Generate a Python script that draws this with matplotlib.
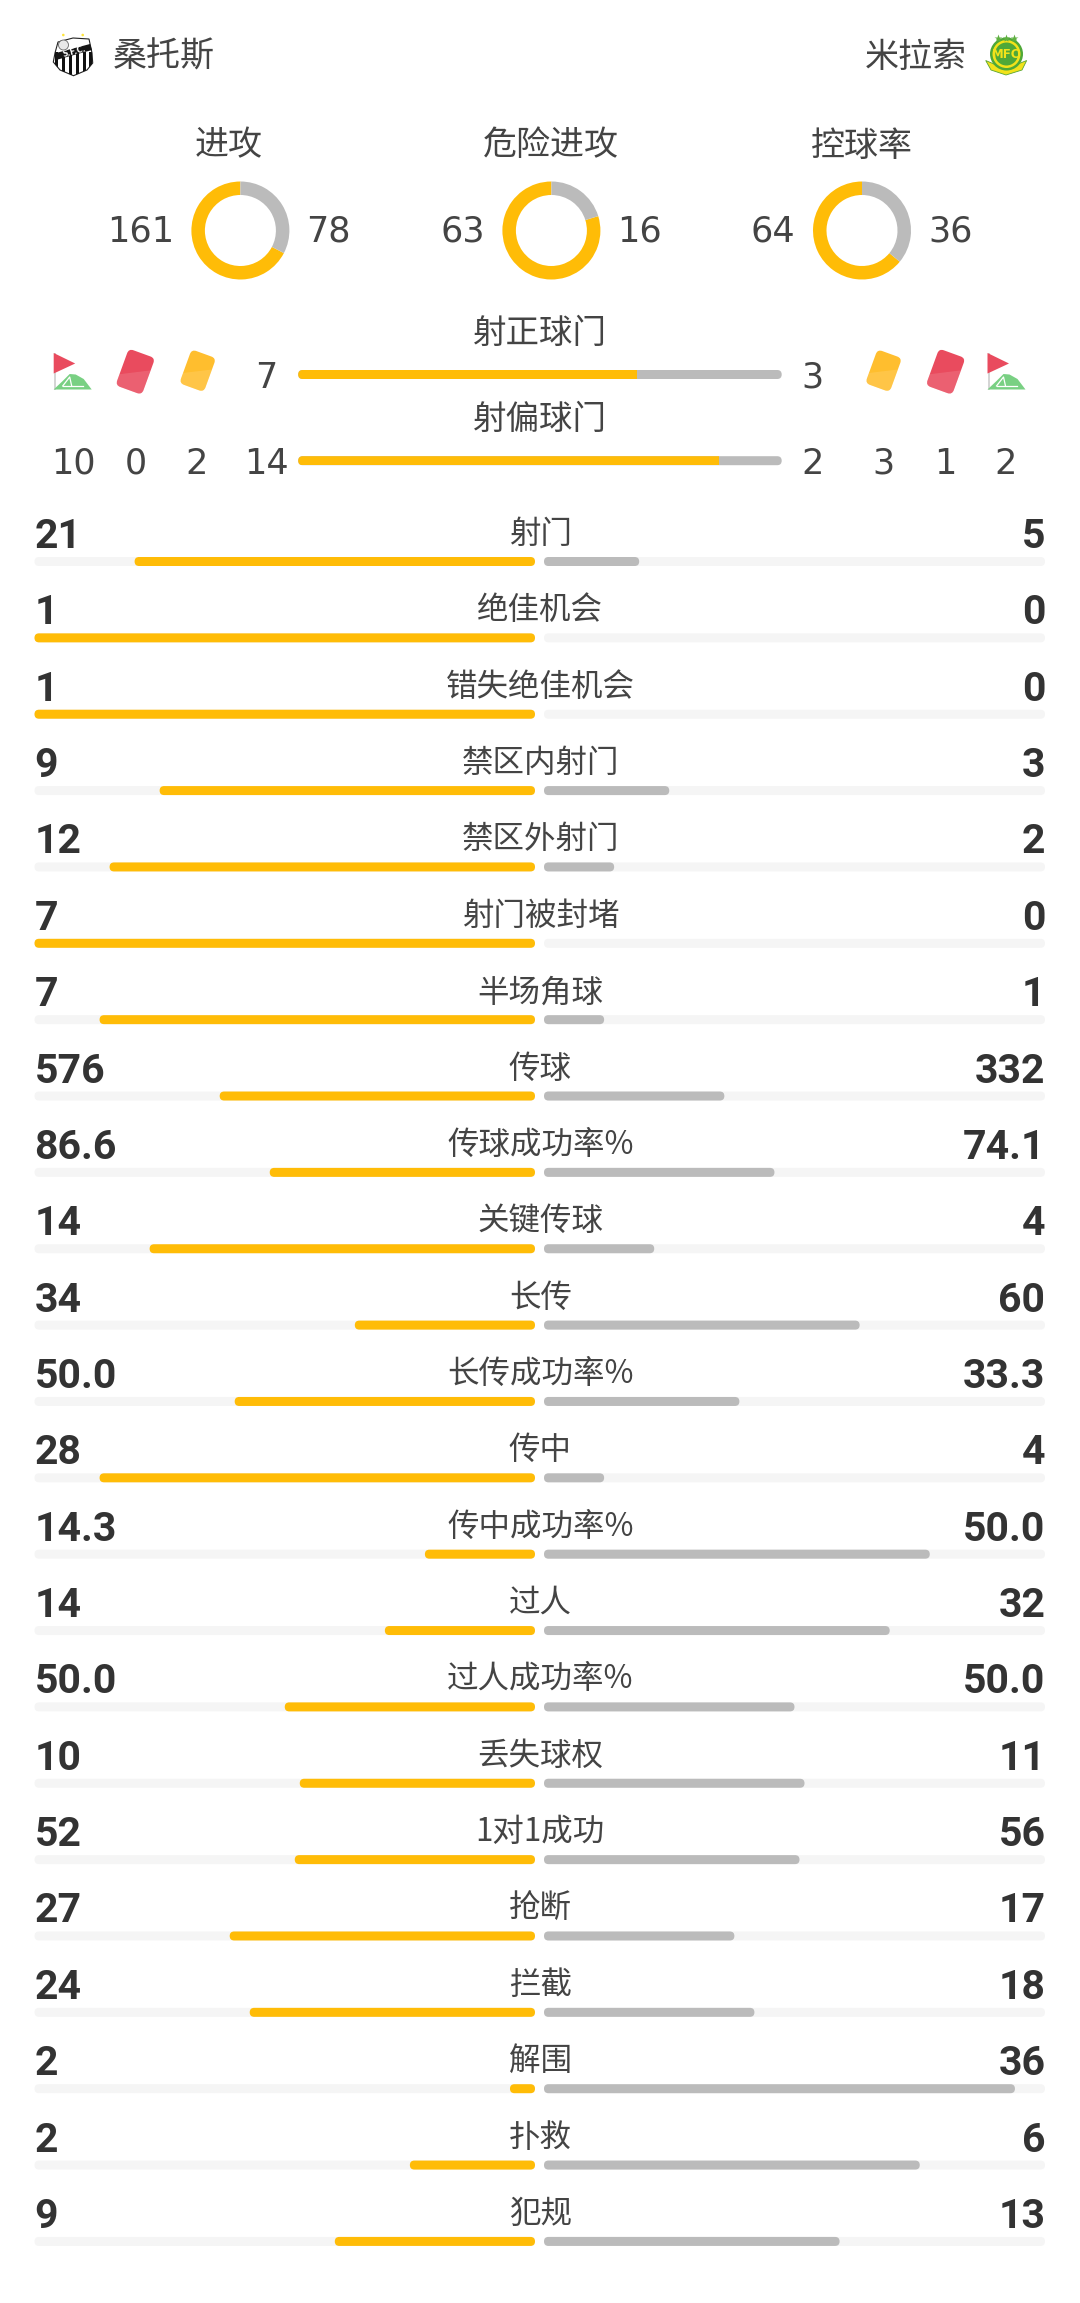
import math
import matplotlib
matplotlib.use("Agg")
import matplotlib.pyplot as plt
from matplotlib.patches import FancyBboxPatch, Rectangle, Polygon, Circle
from matplotlib.transforms import Affine2D

W, H = 1080, 2303
CJK = ['Noto Sans CJK SC', 'DejaVu Sans']
YEL, GRY, TRK, INK, INK2 = '#FFBC07', '#BBBBBB', '#F5F5F5', '#333333', '#444444'

teams = ['桑托斯', '米拉索']
donut_titles = ['进攻', '危险进攻', '控球率']
donut_home = [161, 63, 64]
donut_away = [78, 16, 36]

shot_titles = ['射正球门', '射偏球门']
shot_home = [7, 14]
shot_away = [3, 2]
home_counts = ['10', '0', '2']   # corners, red, yellow
away_counts = ['3', '1', '2']    # yellow, red, corners

labels = ['射门', '绝佳机会', '错失绝佳机会', '禁区内射门', '禁区外射门', '射门被封堵', '半场角球',
          '传球', '传球成功率%', '关键传球', '长传', '长传成功率%', '传中', '传中成功率%',
          '过人', '过人成功率%', '丢失球权', '1对1成功', '抢断', '拦截', '解围', '扑救', '犯规']
home = ['21', '1', '1', '9', '12', '7', '7', '576', '86.6', '14', '34', '50.0', '28', '14.3',
        '14', '50.0', '10', '52', '27', '24', '2', '2', '9']
away = ['5', '0', '0', '3', '2', '0', '1', '332', '74.1', '4', '60', '33.3', '4', '50.0',
        '32', '50.0', '11', '56', '17', '18', '36', '6', '13']

fig = plt.figure(figsize=(W / 100, H / 100), dpi=100, facecolor='white')
ax = fig.add_axes([0, 0, 1, 1])
ax.set_xlim(0, W)
ax.set_ylim(H, 0)
ax.axis('off')


def px(v):
    return v * 0.72


def share(v, other):
    # the source truncates each side's share to a whole percent
    return math.floor(100 * v / (v + other) + 1e-9) / 100


def cjk(x, y, s, size, color=INK2, ha='center'):
    ax.text(x, y, s, fontsize=px(size), family=CJK, color=color, ha=ha, va='center')


def num(x, y, s, size=35, ha='center'):
    ax.text(x, y, s, fontsize=px(size), family='DejaVu Sans', color=INK2, ha=ha, va='center_baseline')


def pill(x0, x1, y0, h, color, z=2):
    r = min(h / 2, (x1 - x0) / 2)
    p = FancyBboxPatch((x0, y0), x1 - x0, h, boxstyle=f'round,pad=0,rounding_size={r}',
                       fc=color, ec='none', zorder=z)
    ax.add_patch(p)
    return p


def card(cx, cy, w, h, base, z=3):
    tr = Affine2D().rotate_deg_around(cx, cy, 20) + ax.transData
    p = FancyBboxPatch((cx - w / 2, cy - h / 2), w, h, boxstyle='round,pad=0,rounding_size=5',
                       fc=base, ec='none', transform=tr, zorder=z)
    ax.add_patch(p)
    o = Polygon([(cx + w / 2, cy - h / 6), (cx + w / 2, cy + h / 2), (cx - w / 2, cy + h / 2), (cx - w / 2, cy + h / 5)],
                fc='white', alpha=0.12, ec='none', transform=tr, zorder=z + 1)
    ax.add_patch(o)
    o.set_clip_path(p)


def flag(x0):
    ax.add_patch(Rectangle((x0, 353), 2.5, 37, fc='#D5D5D5', ec='none', zorder=3))
    ax.add_patch(Polygon([(x0, 353), (x0 + 21.5, 363.5), (x0, 373.5)], fc='#E94B5E', ec='none', zorder=4))
    ax.add_patch(Polygon([(x0, 389.5), (x0 + 9, 381), (x0 + 16, 374), (x0 + 22, 374.5), (x0 + 30, 379),
                          (x0 + 38, 389.5)], fc='#79D083', ec='none', zorder=4))
    ax.plot([x0 + 9, x0 + 29], [386, 386], color='white', lw=0.9, zorder=5)
    ax.plot([x0 + 9, x0 + 16, x0 + 18], [386, 377, 386], color='white', lw=0.9, zorder=5)


# ---- header
cjk(164, 57, teams[0], 34)
cjk(916, 57, teams[1], 34)

# Santos crest
shield = Polygon([(58, 42), (73, 38), (89, 39), (92, 53), (92.7, 63), (87, 70), (73.5, 75.7), (60, 70),
                  (53.3, 62), (55, 53)], fc='white', ec='#222222', lw=0.8, zorder=3)
ax.add_patch(shield)
for x in (55, 62, 69, 76, 83, 89):
    s = Rectangle((x, 52), 3.4, 25, fc='#111111', ec='none', zorder=4)
    ax.add_patch(s)
    s.set_clip_path(shield)
band = Polygon([(56, 53), (90, 44), (92, 50), (56, 60)], fc='#161616', ec='none', zorder=5)
ax.add_patch(band)
ax.text(74, 52, 'S.F.C.', fontsize=5.5, fontweight='bold', family='DejaVu Sans', color='white',
        ha='center', va='center', rotation=15, zorder=6)
ax.add_patch(Circle((63.3, 35), 1.3, fc='#FFE53B', ec='none', zorder=5))
ax.add_patch(Circle((82.7, 35), 1.3, fc='#FFE53B', ec='none', zorder=5))
ax.add_patch(Circle((63.5, 45), 5, fc='#E8E8E8', ec='#666666', lw=0.6, zorder=6))

# Mirassol crest
ax.add_patch(Polygon([(985.7, 60.5), (994, 64), (1018, 64), (1026.7, 60.5), (1022, 70), (1006, 75), (991, 70)],
                     fc='#F2E21A', ec='#58A632', lw=0.6, zorder=3))
ax.add_patch(Circle((1006.5, 54), 16.5, fc='#4FA838', ec='none', zorder=4))
ax.add_patch(Circle((1006.5, 54), 14, fc='#F2E21A', ec='none', zorder=5))
ax.add_patch(Circle((1006.5, 54), 11.5, fc='#4FA838', ec='none', zorder=6))
ax.text(1006.5, 54, 'MFC', fontsize=8.5, fontweight='bold', family='DejaVu Sans', color='#F2E21A',
        ha='center', va='center', zorder=7)
for x in (997.7, 1006, 1014.3):
    ax.plot([x], [38], marker='*', ms=6, color='#5FB041', mec='none', zorder=5)

# ---- donuts
title_x = [228.6, 551, 861.6]
donut_x = [240.4, 551.4, 862]
DY, DR, DW = 230.5, 49, 13.5
for t, tx, cx, a, b in zip(donut_titles, title_x, donut_x, donut_home, donut_away):
    cjk(tx, 146, t, 34)
    iax = fig.add_axes([(cx - DR) / W, 1 - (DY + DR) / H, 2 * DR / W, 2 * DR / H])
    iax.pie([a, b], colors=[YEL, GRY], startangle=90, radius=1,
            wedgeprops={'width': DW / DR, 'linewidth': 0})
    iax.set_xlim(-1, 1)
    iax.set_ylim(-1, 1)
    num(cx - DR - 17.5, DY - 2, str(a), ha='right')
    num(cx + DR + 17, DY - 2, str(b), ha='left')

# ---- on/off-target
BX0, BX1 = 298.2, 781.7
for i, (t, a, b) in enumerate(zip(shot_titles, shot_home, shot_away)):
    y = 370 + i * 86.2
    cjk(540, y - 36.5, t, 33.5)
    base = pill(BX0, BX1, y, 9, GRY)
    fg = Rectangle((BX0, y), (BX1 - BX0) * share(a, b), 9, fc=YEL, ec='none', zorder=3)
    ax.add_patch(fg)
    fg.set_clip_path(base)
    num(266.5, y + 4, str(a))
    num(812.7, y + 4, str(b))

flag(53.7)
card(135.3, 371.7, 28, 39, '#E94B5E')
card(197.7, 370.7, 26, 36, '#FFBE2E')
card(883.6, 370.7, 26, 36, '#FFBE2E')
card(945.6, 371.7, 28, 39, '#E94B5E')
flag(987.5)

for x, s in zip((73.7, 135.7, 197), home_counts):
    num(x, 460.2, s)
for x, s in zip((883, 945.6, 1006), away_counts):
    num(x, 460.2, s)

# ---- stat rows
L0, L1, R0, R1 = 34.5, 535, 544, 1045
for i, (lab, a, b) in enumerate(zip(labels, home, away)):
    y = 557 + i * 76.36
    va, vb = float(a), float(b)
    pill(L0, L1, y, 9, TRK, 1)
    pill(R0, R1, y, 9, TRK, 1)
    if va > 0:
        pill(L1 - (L1 - L0) * share(va, vb), L1, y, 9, YEL)
    if vb > 0:
        pill(R0, R0 + (R1 - R0) * share(vb, va), y, 9, GRY)
    cjk(540.3, y - 23, lab, 31.5)
    ax.text(L0, y - 9, a, fontsize=px(41), fontweight='bold', family='Roboto', color=INK, ha='left', va='baseline')
    ax.text(R1 + 0.5, y - 9, b, fontsize=px(41), fontweight='bold', family='Roboto', color=INK, ha='right', va='baseline')

fig.savefig('out.png', dpi=100, facecolor='white')
